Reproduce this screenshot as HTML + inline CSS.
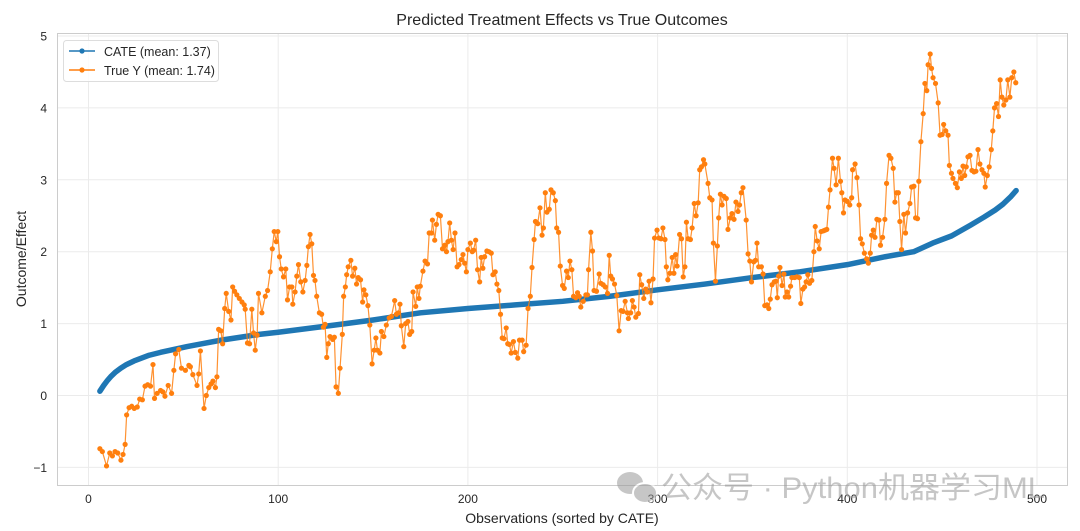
<!DOCTYPE html>
<html><head><meta charset="utf-8"><style>
body{margin:0;background:#fff;}
svg{display:block;font-family:"Liberation Sans","Noto Sans CJK SC",sans-serif;}
</style></head><body>
<svg id="chart" width="1080" height="531" viewBox="0 0 1080 531">
<rect x="0" y="0" width="1080" height="531" fill="#fff"/>
<text x="562" y="25" text-anchor="middle" font-size="16" fill="#262626">Predicted Treatment Effects vs True Outcomes</text>
<g id="grid"></g>
<g id="ticks"></g>
<g id="series"></g>
<rect x="57.5" y="33.5" width="1010" height="452" fill="none" stroke="#ccc" stroke-width="1"/>
<text x="562" y="523" text-anchor="middle" font-size="14" fill="#262626">Observations (sorted by CATE)</text>
<text x="26" y="259" text-anchor="middle" font-size="14" fill="#262626" transform="rotate(-90 26 259)">Outcome/Effect</text>
<g>
<rect x="63.5" y="40.5" width="155" height="41" rx="3" fill="#fff" fill-opacity="0.85" stroke="#ddd"/>
<g>
<line x1="69" y1="51" x2="95" y2="51" stroke="#1f77b4" stroke-width="1.5"/><circle cx="82" cy="51" r="2.6" fill="#1f77b4"/>
<text x="104" y="56" font-size="12.5" fill="#262626">CATE (mean: 1.37)</text></g>
<g>
<line x1="69" y1="70" x2="95" y2="70" stroke="#ff7f0e" stroke-width="1.5"/><circle cx="82" cy="70" r="2.6" fill="#ff7f0e"/>
<text x="104" y="75" font-size="12.5" fill="#262626">True Y (mean: 1.74)</text></g>
</g>
<g opacity="0.55">
<ellipse cx="630" cy="483" rx="13" ry="11" fill="#999"/>
<ellipse cx="645" cy="493" rx="12" ry="10" fill="#999" stroke="#fff" stroke-width="2"/>
<text x="661" y="498" font-size="30" fill="#999" textLength="384" lengthAdjust="spacingAndGlyphs" font-family="Liberation Sans, Noto Sans CJK SC, sans-serif">公众号 · Python机器学习ML</text>
</g>
</svg>
<script>
const xTicks=[0,100,200,300,400,500];
const yTicks=[-1,0,1,2,3,4,5];
const cateX=[6,8,10,12,14,17,20,24,28,32,38,45,52,60,70,80,90,100,115,130,150,175,200,225,250,275,300,325,350,375,400,420,435,445,455,465,472,478,482,486,489];
const cateY=[0.06,0.14,0.21,0.27,0.32,0.38,0.43,0.48,0.52,0.56,0.6,0.64,0.68,0.72,0.77,0.81,0.85,0.88,0.93,0.98,1.05,1.15,1.21,1.26,1.31,1.38,1.47,1.55,1.64,1.72,1.82,1.93,2.0,2.12,2.22,2.37,2.48,2.58,2.66,2.76,2.85];
const trueX=[6,7.3,9.5,11.2,12.6,14,15.4,17.1,18.2,19.3,20.1,21.4,22.8,24.1,25.7,27,28.4,29.8,31.2,32.7,34,34.8,36.2,38,39.2,40.3,42,43.8,45,45.9,47.6,49,51.1,52.9,53.7,55,57.2,58.1,59,60.9,62.1,63.4,64.6,65.6,66.9,67.7,68.6,69.8,70.7,71.8,72.6,73.9,75.1,76,77,78.2,79.5,80.9,82.1,82.6,83.8,84.9,86.1,87,87.9,88.9,89.6,91.4,93.2,94.4,95.8,96.9,97.9,99,99.8,100.7,101.6,102.8,104,104.9,106,107.2,107.7,108.9,109.8,110.7,111.9,113,114.2,115.1,115.9,116.8,117.7,118.6,119.4,120.3,121.7,122.9,123.8,124.7,125.6,126.4,127.3,128.7,129.6,130.5,131.7,132.6,133.8,134.5,135.4,136.1,136.9,138.3,139.2,140.4,141.3,142.2,143.4,144.5,145.2,146.2,147.3,148.3,149.5,150.6,151.5,152.3,153.6,154.4,155.7,157,158.5,159.7,161.4,162.3,163.4,164.2,164.9,166.2,167.2,168.4,169.3,170.4,171.1,172.5,173.3,174.2,174.9,176.3,177.4,178.7,179.6,180.8,181.3,182.5,183.4,184.3,185.5,186.6,187.8,188.7,189.5,190.4,191.3,192.2,193.2,194.3,195.3,196.5,197.4,198.3,199.2,200,201.3,202.3,203,204.1,205.1,206.2,207,207.9,208.8,210,211.1,212.3,213.2,214.4,215.3,216.3,217.2,218.1,219,220.2,221,221.9,222.8,224,225,226.3,227.2,228.6,229.4,230.7,231.7,232.9,233.8,234.9,235.6,236.8,238,239.1,239.8,240.8,241.7,242.9,243.8,245,246.1,246.8,247.8,248.7,249.9,250.8,252,252.9,253.8,254.8,255.7,256.9,257.8,258.7,259.5,260.8,262.2,263,263.6,264.8,265.7,266.5,267.8,269.2,270.1,271.3,272.4,273.6,274.5,275.3,276.2,277.3,278.5,279.7,280.8,281.8,282.9,284.1,284.6,285.8,286.7,287.6,288.5,289.9,290.6,291.6,292.7,293.7,294.6,295.5,296.5,297.6,298.4,299.7,300.7,301.8,302.8,303.9,304.6,305.4,306.5,307.7,308.6,309.5,310.3,311.6,312.6,313.5,314.4,315.2,316.1,317.3,318.2,319.3,320.3,321.4,322.2,323.1,324.2,324.9,326.6,327.5,328.7,329.4,330.5,331.5,332.2,333.1,334,335,336.2,337.1,338.3,339.2,340.3,341.3,342.4,343.2,344.1,345,346.7,347.7,348.6,349.5,350.7,351.6,352.4,353.3,354.7,355.6,356.5,357.7,358.6,359.4,360.3,361.5,362.4,363.1,363.8,364.5,365.6,366.6,367.3,368.2,369.1,370.1,370.8,372.2,373.4,374.7,375.5,376.6,377.5,378.3,379.2,380.1,381.3,382.4,383.1,384.1,385.2,386.2,387.4,388.3,389.2,390.1,390.9,392.2,393,394.1,395.3,396.4,397.1,398,398.8,400,401.3,402.3,402.8,404.1,405.1,406.2,407,407.9,409,410.2,411.1,412.1,412.8,413.7,414.6,415.6,416.7,417.5,418.6,419.8,420.7,422,423,424.2,425.1,426,426.9,427.7,428.6,429.8,430.7,431.8,433,433.9,435.1,436,437,437.7,438.8,440,440.9,441.9,442.6,443.7,444.4,445.2,446.5,447.9,448.9,450,450.8,451.9,453.1,453.8,454.9,455.7,457,458,459.1,460.1,461,461.9,462.7,463.6,464.7,465.7,466.8,467.8,468.9,469.9,471,472,472.7,473.8,474.8,475.9,476.7,477.6,478.7,479.7,480.6,481.5,482.5,483.6,484.6,485.7,486.7,487.8,488.8];
const trueY=[-0.74,-0.78,-0.98,-0.8,-0.84,-0.78,-0.8,-0.9,-0.82,-0.68,-0.27,-0.17,-0.15,-0.18,-0.16,-0.05,-0.06,0.13,0.15,0.13,0.43,-0.04,0.03,0.07,0.05,-0.01,0.14,0.03,0.35,0.58,0.64,0.38,0.35,0.42,0.4,0.29,0.14,0.3,0.62,-0.18,0.0,0.11,0.16,0.2,0.11,0.26,0.92,0.9,0.72,1.21,1.42,1.17,1.05,1.51,1.45,1.4,1.35,1.3,1.26,1.2,0.73,0.72,1.2,0.87,0.63,0.84,1.42,1.15,1.38,1.46,1.72,2.04,2.28,2.14,2.28,1.93,1.76,1.65,1.76,1.33,1.51,1.51,1.27,1.44,1.66,1.82,1.58,1.44,1.6,1.81,2.07,2.24,2.11,1.67,1.6,1.38,1.15,1.13,0.95,0.99,0.53,0.72,0.82,0.78,0.81,0.12,0.03,0.38,0.85,1.38,1.51,1.68,1.79,1.88,1.66,1.77,1.55,1.64,1.61,1.3,1.47,1.4,1.25,0.98,0.44,0.63,0.8,0.63,0.59,0.89,0.82,0.98,1.08,1.1,1.32,1.13,1.15,1.27,0.97,0.68,1.0,1.03,0.85,0.89,1.44,1.24,1.51,1.35,1.52,1.73,1.87,1.83,2.26,2.26,2.44,2.16,2.38,2.52,2.5,2.04,2.09,2.0,2.14,2.4,2.16,2.03,2.26,1.79,1.82,1.89,1.96,1.84,1.72,2.03,2.12,2.0,2.02,2.16,1.75,1.58,1.92,1.77,1.93,2.01,2.0,1.98,1.68,1.72,1.55,1.46,1.13,0.8,0.79,0.94,0.72,0.71,0.59,0.75,0.6,0.52,0.77,0.77,0.61,0.7,1.21,1.38,1.78,2.17,2.42,2.39,2.61,2.23,2.33,2.82,2.55,2.59,2.86,2.82,2.71,2.33,2.27,1.8,1.53,1.49,1.73,1.64,1.87,1.75,1.38,1.36,1.43,1.38,1.23,1.31,1.4,1.4,1.75,2.27,2.01,1.46,1.45,1.69,1.56,1.54,1.51,1.42,1.95,1.66,1.62,1.55,1.39,0.9,1.18,1.17,1.31,1.15,1.07,1.15,1.32,1.23,1.09,1.14,1.68,1.54,1.35,1.48,1.44,1.59,1.29,1.62,2.19,2.3,2.19,2.18,2.33,2.17,1.79,1.61,1.7,1.92,1.7,1.96,1.8,2.24,2.18,1.65,1.79,2.41,2.18,2.17,2.33,2.67,2.5,2.68,3.14,3.18,3.28,3.22,2.95,2.75,2.72,2.12,1.59,2.08,2.47,2.8,2.65,2.77,2.74,2.31,2.47,2.53,2.45,2.69,2.56,2.65,2.82,2.89,2.44,1.97,1.87,1.58,1.86,1.88,2.12,1.79,1.79,1.69,1.25,1.26,1.21,1.34,1.54,1.58,1.59,1.36,1.66,1.78,1.53,1.69,1.37,1.44,1.37,1.52,1.64,1.64,1.65,1.64,1.28,1.48,1.51,1.58,1.68,1.56,1.6,2.0,2.35,2.15,2.04,2.28,2.29,2.3,2.31,2.62,2.86,3.3,3.16,2.93,3.3,2.98,2.82,2.54,2.72,2.7,2.65,2.75,3.14,3.22,3.03,2.65,2.18,2.11,1.98,1.9,1.84,1.98,2.23,2.3,2.2,2.45,2.44,2.09,2.2,2.45,2.95,3.34,3.3,3.16,2.69,2.82,2.82,2.42,2.03,2.52,2.26,2.54,2.67,2.9,2.91,2.47,2.46,2.98,3.53,3.92,4.34,4.24,4.6,4.75,4.55,4.42,4.34,4.07,3.62,3.63,3.77,3.68,3.62,3.2,3.09,3.02,2.95,2.89,3.11,3.02,3.19,3.06,3.18,3.32,3.34,3.13,3.11,3.12,3.42,3.22,3.14,3.09,2.9,3.06,3.18,3.42,3.68,4.0,4.06,3.88,4.39,4.15,4.04,4.11,4.39,4.15,4.42,4.5,4.35];

const X0=88.5, XS=1.897, Y0=395.5, YS=71.9;
function sx(v){return X0+XS*v;}
function sy(v){return Y0-YS*v;}
const NS='http://www.w3.org/2000/svg';
function mk(tag,attrs,parent){const e=document.createElementNS(NS,tag);for(const k in attrs)e.setAttribute(k,attrs[k]);parent.appendChild(e);return e;}
const grid=document.getElementById('grid'), ticks=document.getElementById('ticks'), series=document.getElementById('series');
xTicks.forEach(t=>{
  const l=mk('line',{x1:sx(t),x2:sx(t),y1:33.5,y2:485.5,stroke:'#ebebeb','stroke-width':1},grid);
  
  
  const tx=mk('text',{x:sx(t),y:503,'text-anchor':'middle','font-size':12,fill:'#262626'},ticks);
  tx.textContent=t;
  
  
});
yTicks.forEach(t=>{
  const l=mk('line',{x1:57.5,x2:1067.5,y1:sy(t),y2:sy(t),stroke:'#ebebeb','stroke-width':1},grid);
  
  
  const tx=mk('text',{x:47,y:sy(t)+4.5,'text-anchor':'end','font-size':12,fill:'#262626'},ticks);
  tx.textContent=t<0?'\u22121':t;
  
  
});
const cp=cateX.map((x,i)=>sx(x)+','+sy(cateY[i])).join(' ');
const cl=mk('polyline',{points:cp,fill:'none',stroke:'#1f77b4','stroke-width':5.5,'stroke-linejoin':'round','stroke-linecap':'round'},series);


const tp=trueX.map((x,i)=>sx(x)+','+sy(trueY[i])).join(' ');
const tl=mk('polyline',{points:tp,fill:'none',stroke:'#ff7f0e','stroke-width':1.2,'stroke-opacity':0.85},series);


trueX.forEach((x,i)=>{
  const c=mk('circle',{cx:sx(x),cy:sy(trueY[i]),r:2.6,fill:'#ff7f0e'},series);
  
  
});
</script>
</body></html>
